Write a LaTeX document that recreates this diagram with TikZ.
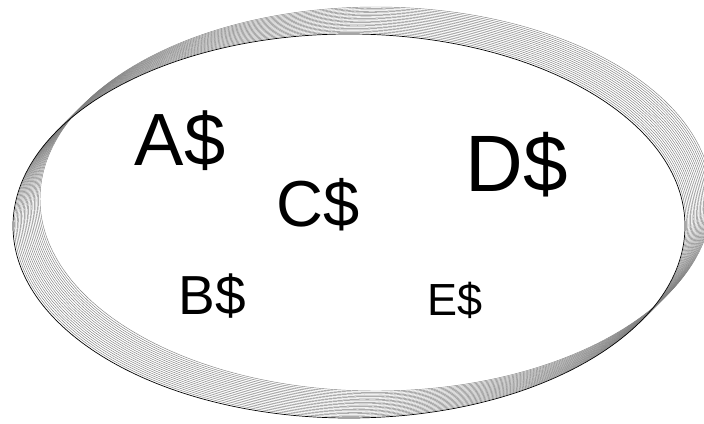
\documentclass[tikz,border=0pt]{standalone}
\usepackage{fontspec}
\setmainfont{Liberation Sans}
\begin{document}
\begin{tikzpicture}[x=1pt,y=-1pt,
  ring/.style={draw=black!50, line width=0.45pt},
  ringdark/.style={draw=black, line width=0.7pt},
  txt/.style={inner sep=0pt, anchor=base}]
\useasboundingbox (0,0) rectangle (704,423);
\clip (0,0) rectangle (704,423);
\foreach \i in {1,...,19}{
  \draw[ring] ({349+27*\i/19},{226-27*\i/19}) ellipse [x radius=336pt, y radius=192pt];
}
\draw[ringdark] (349,226) ellipse [x radius=336pt, y radius=192pt];
\node[txt, font=\fontsize{74}{74}\selectfont] (A) at (180,165) {A\$};
\node[txt, font=\fontsize{80}{80}\selectfont] (D) at (517,191) {D\$};
\node[txt, font=\fontsize{65}{65}\selectfont] (C) at (318,226) {C\$};
\node[txt, font=\fontsize{55}{55}\selectfont] (B) at (212,314) {B\$};
\node[txt, font=\fontsize{45}{45}\selectfont] (E) at (455,315) {E\$};
\end{tikzpicture}
\end{document}
